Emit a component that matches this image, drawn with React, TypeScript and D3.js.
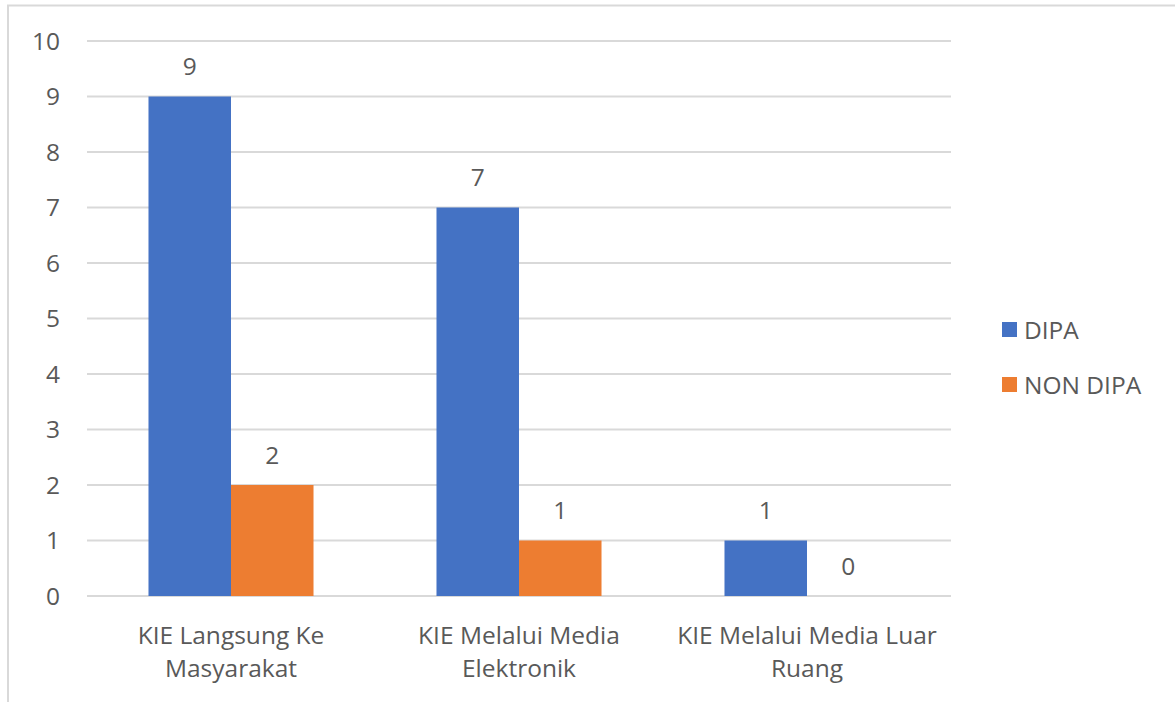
import React from "react";
import * as d3 from "d3";

const categories = [
  ["KIE Langsung Ke", "Masyarakat"],
  ["KIE Melalui Media", "Elektronik"],
  ["KIE Melalui Media Luar", "Ruang"],
];
const seriesNames = ["DIPA", "NON DIPA"];
const dipa = [9, 7, 1];
const nonDipa = [2, 1, 0];
const yTicks = [0, 1, 2, 3, 4, 5, 6, 7, 8, 9, 10];
const colors = ["#4472C4", "#ED7D31"];

const W = 1175;
const H = 702;
const FONT = "'Open Sans', 'Liberation Sans', sans-serif";
const TEXT = "#595959";
const FS = 24.5;

export default function App() {
  const x0 = d3
    .scaleBand<number>()
    .domain(categories.map((_, i) => i))
    .range([87, 951])
    .paddingInner(0.427)
    .paddingOuter(0.2135);
  const x1 = d3.scaleBand<number>().domain([0, 1]).range([0, x0.bandwidth()]);
  const y = d3.scaleLinear().domain([0, 10]).range([596, 41]);
  const series = [dipa, nonDipa];

  return (
    <svg
      width={W}
      height={H}
      style={{ position: "absolute", left: 0, top: 0, display: "block" }}
      fontFamily={FONT}
    >
      <rect x={0} y={0} width={W} height={H} fill="#fff" />
      <rect x={8} y={5.5} width={W + 10} height={H + 10} fill="none" stroke="#d9d9d9" strokeWidth={2} />
      {yTicks.map((t) => (
        <g key={t}>
          <line x1={87} x2={951} y1={y(t)} y2={y(t)} stroke="#d9d9d9" strokeWidth={2} />
          <text x={60} y={y(t)} dy="0.35em" textAnchor="end" fontSize={FS} fill={TEXT}>
            {t}
          </text>
        </g>
      ))}
      {series.map((vals, s) =>
        vals.map((v, i) => {
          const bx = (x0(i) as number) + (x1(s) as number);
          return (
            <g key={`${s}-${i}`}>
              <rect x={bx} y={y(v)} width={x1.bandwidth()} height={y(0) - y(v)} fill={colors[s]} />
              <text
                x={bx + x1.bandwidth() / 2}
                y={y(v) - 30}
                dy="0.35em"
                textAnchor="middle"
                fontSize={FS}
                fill={TEXT}
              >
                {v}
              </text>
            </g>
          );
        })
      )}
      {categories.map((lines, i) => (
        <text
          key={i}
          x={(x0(i) as number) + x0.bandwidth() / 2}
          textAnchor="middle"
          fontSize={FS}
          fill={TEXT}
        >
          {lines.map((l, k) => (
            <tspan key={k} x={(x0(i) as number) + x0.bandwidth() / 2} y={635 + k * 33} dy="0.35em">
              {l}
            </tspan>
          ))}
        </text>
      ))}
      {seriesNames.map((n, s) => (
        <g key={n}>
          <rect x={1002} y={322 + s * 55} width={15} height={15} fill={colors[s]} />
          <text x={1024} y={330 + s * 55} dy="0.35em" fontSize={FS} fill={TEXT}>
            {n}
          </text>
        </g>
      ))}
    </svg>
  );
}
